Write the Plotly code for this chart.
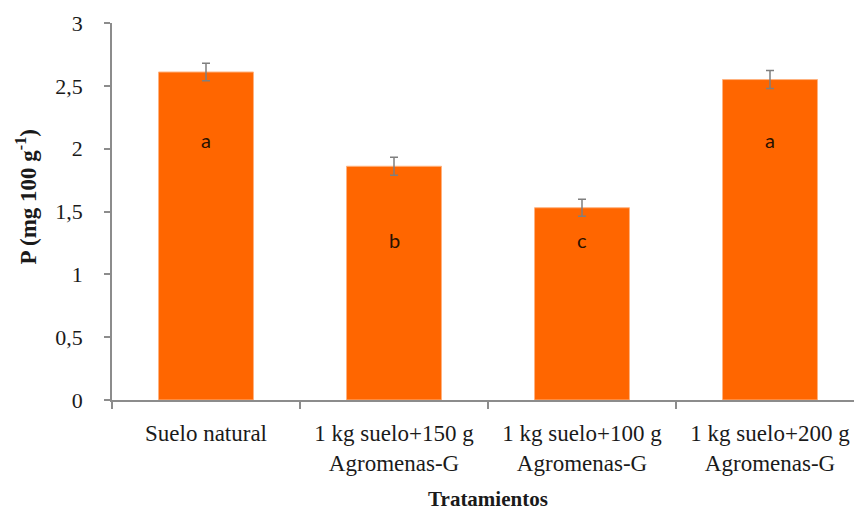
import plotly.graph_objects as go

categories = ["Suelo natural", "1 kg suelo+150 g<br>Agromenas-G",
              "1 kg suelo+100 g<br>Agromenas-G", "1 kg suelo+200 g<br>Agromenas-G"]
values = [2.61, 1.86, 1.53, 2.55]
errors = [0.07, 0.072, 0.068, 0.072]
letters = ["a", "b", "c", "a"]
letter_y = [2.07, 1.27, 1.27, 2.07]
y_ticks = [0, 0.5, 1, 1.5, 2, 2.5, 3]

serif = "Times New Roman"
axis_grey = "#8c8c8c"
txt = "#1a1a1a"

fig = go.Figure()
fig.add_trace(go.Bar(
    x=categories, y=values,
    marker=dict(color="#FF6600", line=dict(color="#ffb27f", width=1)),
    width=0.505,
    error_y=dict(type="data", array=errors, color="#7f7f7f", thickness=1.5, width=4),
    showlegend=False,
))

for c, t, yy in zip(categories, letters, letter_y):
    fig.add_annotation(x=c, y=yy, text=t, showarrow=False,
                       font=dict(family="Lato", size=20, color="#2a1200"))

# y-axis title
fig.add_annotation(xref="paper", yref="paper", x=0, y=0.537, xshift=-85,
                   xanchor="center", yanchor="middle", textangle=-90, showarrow=False,
                   text="<b>P (mg 100 g<sup>-1</sup>)</b>",
                   font=dict(family=serif, size=23, color=txt))

fig.update_layout(
    width=862, height=512,
    margin=dict(l=104, r=6, t=15, b=120),
    plot_bgcolor="white", paper_bgcolor="white",
    separators=", ",
    font=dict(family=serif, size=22, color=txt),
)
fig.update_xaxes(
    showline=True, linecolor=axis_grey, linewidth=1.5,
    ticks="outside", tickson="boundaries", ticklen=7, tickcolor=axis_grey, tickwidth=1.5,
    tickfont=dict(family=serif, size=23, color=txt),
    ticklabelstandoff=12,
    title=dict(text="<b>Tratamientos</b>", font=dict(family=serif, size=21, color=txt), standoff=16),
    automargin=False,
)
fig.update_yaxes(
    range=[0, 3], tickvals=y_ticks,
    showgrid=False, zeroline=False,
    showline=True, linecolor=axis_grey, linewidth=1.5,
    ticks="outside", ticklen=6, tickcolor=axis_grey, tickwidth=1.5,
    tickfont=dict(family=serif, size=22, color=txt),
    ticklabelstandoff=17,
    automargin=False,
)

fig.write_html("out.html")
